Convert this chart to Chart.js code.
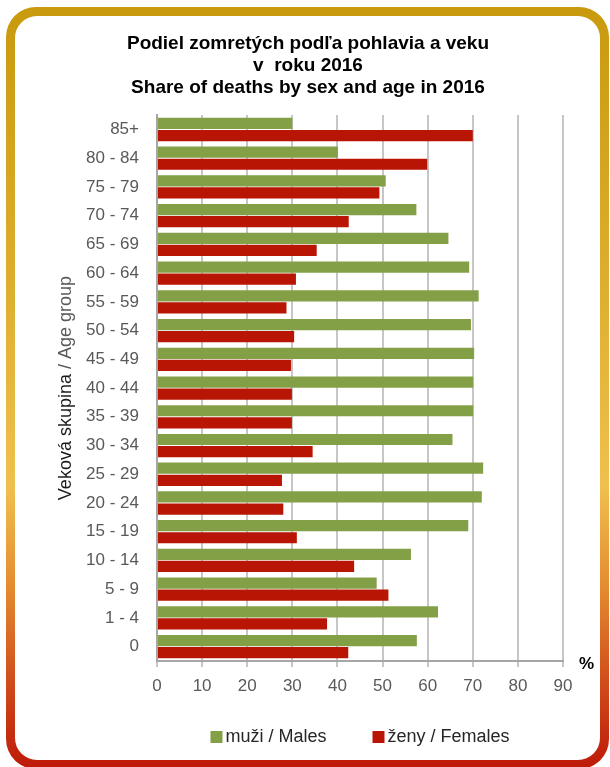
<!DOCTYPE html>
<html>
<head>
    <title>Podiel zomretých podľa pohlavia a veku</title>
    <script src="https://cdn.jsdelivr.net/npm/chart.js"></script>
    <style>
        body {
            margin: 0;
            width: 610px;
            height: 767px;
            overflow: hidden;
            position: relative;
            background-color: white;
            font-family: "Liberation Sans", Arial, sans-serif;
        }
        .frame {
            position: absolute;
            left: 6px;
            top: 7px;
            width: 603px;
            height: 762px;
            border-radius: 30px;
            background: linear-gradient(to bottom, #c99a0e 0%, #dcae2c 35%, #f0c04e 63%, #e48c30 76%, #cf4a1a 89%, #bd1a08 100%);
        }
        .inner {
            position: absolute;
            left: 9px;
            top: 9px;
            right: 9px;
            bottom: 9px;
            border-radius: 22px;
            background-color: white;
        }
        canvas {
            position: absolute;
            left: 0;
            top: 0;
        }
    </style>
</head>
<body>
    <div class="frame"><div class="inner"></div></div>
    <canvas id="deathsChart" width="610" height="767"></canvas>

    <script>
        // age groups, top to bottom as in the picture
        const ageGroups = ['85+', '80 - 84', '75 - 79', '70 - 74', '65 - 69', '60 - 64', '55 - 59', '50 - 54', '45 - 49',
            '40 - 44', '35 - 39', '30 - 34', '25 - 29', '20 - 24', '15 - 19', '10 - 14', '5 - 9', '1 - 4', '0'];
        const males = [30.0, 40.1, 50.7, 57.5, 64.6, 69.2, 71.3, 69.6, 70.3, 70.1, 70.1, 65.5, 72.3, 72.0, 69.0, 56.3, 48.7, 62.3, 57.6];
        const females = [70.0, 59.9, 49.3, 42.5, 35.4, 30.8, 28.7, 30.4, 29.7, 29.9, 29.9, 34.5, 27.7, 28.0, 31.0, 43.7, 51.3, 37.7, 42.4];
        const xTicks = [0, 10, 20, 30, 40, 50, 60, 70, 80, 90];
        const seriesNames = ['muži / Males', 'ženy / Females'];
        const titleLines = ['Podiel zomretých podľa pohlavia a veku', 'v  roku 2016', 'Share of deaths by sex and age in 2016'];

        const FONT = '"Liberation Sans", Arial, sans-serif';

        // y axis title in two tones, the "%" unit and the legend under the axis
        const extraText = {
            id: 'extraText',
            afterDraw(chart) {
                const ctx = chart.ctx;
                const area = chart.chartArea;
                ctx.save();
                ctx.fillStyle = '#000';
                ctx.font = 'bold 17px ' + FONT;
                ctx.textAlign = 'left';
                ctx.textBaseline = 'middle';
                ctx.fillText('%', area.right + 16, area.bottom + 3);

                // legend
                ctx.font = '18px ' + FONT;
                const sets = chart.data.datasets;
                const widths = sets.map(ds => 15 + ctx.measureText(ds.label).width);
                const gap = 46;
                const total = widths.reduce((a, b) => a + b, 0) + gap * (sets.length - 1);
                let lx = (area.left + area.right) / 2 - total / 2;
                const ly = 737;
                sets.forEach((ds, i) => {
                    ctx.fillStyle = ds.backgroundColor;
                    ctx.fillRect(lx, ly - 6, 12, 12);
                    ctx.fillStyle = '#262626';
                    ctx.fillText(ds.label, lx + 15, ly);
                    lx += widths[i] + gap;
                });

                // y axis title
                ctx.translate(66, (area.top + area.bottom) / 2);
                ctx.rotate(-Math.PI / 2);
                const part1 = 'Veková skupina';
                const part2 = ' / Age group';
                ctx.font = '18px ' + FONT;
                const w1 = ctx.measureText(part1).width;
                const w2 = ctx.measureText(part2).width;
                const x = -(w1 + w2) / 2;
                ctx.fillStyle = '#1a1a1a';
                ctx.fillText(part1, x, 0);
                ctx.fillStyle = '#595959';
                ctx.fillText(part2, x + w1, 0);
                ctx.restore();
            }
        };

        const ctx = document.getElementById('deathsChart').getContext('2d');
        new Chart(ctx, {
            type: 'bar',
            data: {
                labels: ageGroups,
                datasets: [{
                    label: seriesNames[0],
                    data: males,
                    backgroundColor: '#84a046',
                    borderWidth: 0,
                    barPercentage: 0.93,
                    categoryPercentage: 0.84
                }, {
                    label: seriesNames[1],
                    data: females,
                    backgroundColor: '#b81504',
                    borderWidth: 0,
                    barPercentage: 0.93,
                    categoryPercentage: 0.84
                }]
            },
            options: {
                indexAxis: 'y',
                responsive: false,
                animation: false,
                layout: {
                    padding: { top: 24, left: 53, right: 47, bottom: 60 }
                },
                plugins: {
                    title: {
                        display: true,
                        text: titleLines,
                        color: '#000',
                        font: { family: FONT, size: 19, weight: 'bold', lineHeight: 1.16 },
                        padding: { top: 9, bottom: 16 }
                    },
                    legend: { display: false },
                    tooltip: { enabled: false }
                },
                scales: {
                    x: {
                        min: 0,
                        max: 90,
                        afterBuildTicks(scale) {
                            scale.ticks = xTicks.map(v => ({ value: v }));
                        },
                        afterFit(scale) {
                            scale.height = 46;
                        },
                        grid: {
                            color: '#c6c6c6',
                            lineWidth: 2,
                            tickLength: 6
                        },
                        border: { color: '#a6a6a6', width: 2 },
                        ticks: {
                            color: '#595959',
                            font: { family: FONT, size: 17 },
                            padding: 9,
                            maxRotation: 0
                        }
                    },
                    y: {
                        afterFit(scale) {
                            scale.width = 104;
                        },
                        grid: {
                            color: 'transparent',
                            drawTicks: false
                        },
                        border: { color: '#a6a6a6', width: 2 },
                        ticks: {
                            color: '#595959',
                            font: { family: FONT, size: 17 },
                            padding: 18
                        }
                    }
                }
            },
            plugins: [extraText]
        });
    </script>
</body>
</html>
